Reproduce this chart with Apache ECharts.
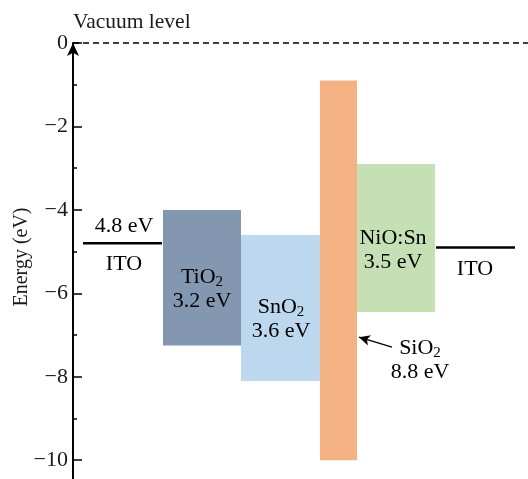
<!DOCTYPE html>
<html>
<head>
<meta charset="utf-8">
<script src="https://cdn.jsdelivr.net/npm/echarts@6/dist/echarts.min.js"></script>
<style>
html, body { margin: 0; padding: 0; background: #fff; }
#chart { width: 528px; height: 479px; }
</style>
</head>
<body>
<div id="chart"></div>
<script>
// layer stack, left to right
var layers = ['ITO', 'TiO2', 'SnO2', 'SiO2', 'NiO:Sn', 'ITO'];
var cbTop = [-4.8, -4.0, -4.6, -0.9, -2.9, -4.9];      // conduction band / work function (eV)
var vbBottom = [-4.8, -7.25, -8.1, -10.0, -6.45, -4.9]; // valence band (eV); metals = same as top
var xStart = [10, 90, 168, 247, 284, 363];
var xEnd = [89, 168, 247, 284, 362, 442];
var layerColors = ['#000', '#8497b0', '#bdd7ee', '#f4b183', '#c5e0b4', '#000'];
var yTicks = [0, -2, -4, -6, -8, -10];
var yMinorTicks = [-1, -3, -5, -7, -9];

var serif = '"Liberation Serif", "Times New Roman", serif';
var rich = {
    t: { fontSize: 22, fontFamily: serif, lineHeight: 24, color: '#1a1a1a' },
    s: { fontSize: 15, fontFamily: serif, lineHeight: 24, verticalAlign: 'bottom', color: '#1a1a1a' }
};

// text notes: [x, energy, text]
var notes = [
    [51, -4.39, '{t|4.8 eV}'],
    [51, -5.30, '{t|ITO}'],
    [129, -5.90, '{t|TiO}{s|2}\n{t|3.2 eV}'],
    [208, -6.63, '{t|SnO}{s|2}\n{t|3.6 eV}'],
    [320, -4.96, '{t|NiO:Sn}\n{t|3.5 eV}'],
    [402, -5.43, '{t|ITO}'],
    [347, -7.61, '{t|SiO}{s|2}\n{t|8.8 eV}']
];

var layerData = [];
for (var i = 0; i < layers.length; i++) {
    layerData.push([xStart[i], xEnd[i], cbTop[i], vbBottom[i]]);
}

function renderLayer(params, api) {
    var i = params.dataIndex;
    var p0 = api.coord([api.value(0), api.value(2)]);
    var p1 = api.coord([api.value(1), api.value(3)]);
    if (api.value(2) === api.value(3)) {
        return {
            type: 'line',
            shape: { x1: p0[0], y1: p0[1], x2: p1[0], y2: p0[1] },
            style: { stroke: '#000', lineWidth: 2.5 }
        };
    }
    return {
        type: 'rect',
        shape: { x: p0[0], y: p0[1], width: p1[0] - p0[0], height: p1[1] - p0[1] },
        style: { fill: layerColors[i] }
    };
}

function renderNote(params, api) {
    var p = api.coord([api.value(0), api.value(1)]);
    return {
        type: 'text',
        x: p[0],
        y: p[1],
        style: {
            text: notes[params.dataIndex][2],
            rich: rich,
            align: 'center',
            verticalAlign: 'middle'
        }
    };
}

var myChart = echarts.init(document.getElementById('chart'));
myChart.setOption({
    animation: false,
    grid: { left: 73, right: 0, top: 43, bottom: 0 },
    xAxis: { type: 'value', min: 0, max: 455, show: false },
    yAxis: [
        {
            type: 'value',
            min: -10.45,
            max: 0,
            axisLine: {
                show: true,
                symbol: ['none', 'arrow'],
                symbolSize: [9, 13],
                lineStyle: { color: '#000', width: 2 }
            },
            axisTick: {
                show: true, inside: true, length: 9, customValues: yTicks,
                lineStyle: { color: '#000', width: 1.5 }
            },
            splitLine: { show: false },
            axisLabel: {
                margin: 5,
                fontSize: 22,
                fontFamily: serif,
                color: '#1a1a1a',
                customValues: yTicks,
                formatter: function (v) { return v === 0 ? '0' : '\u2212' + Math.abs(v); }
            }
        },
        {
            type: 'value',
            min: -10.45,
            max: 0,
            position: 'left',
            axisLine: { show: false },
            axisTick: {
                show: true, inside: true, length: 4, customValues: yMinorTicks,
                lineStyle: { color: '#000', width: 1.5 }
            },
            axisLabel: { show: false },
            splitLine: { show: false }
        }
    ],
    graphic: [
        {
            type: 'text', x: 73, y: 22,
            style: { text: 'Vacuum level', font: '21.5px ' + serif, fill: '#1a1a1a', align: 'left', verticalAlign: 'middle' }
        },
        {
            type: 'text', x: 22, y: 257, rotation: Math.PI / 2,
            style: { text: 'Energy (eV)', font: '20px ' + serif, fill: '#1a1a1a', align: 'center', verticalAlign: 'middle' }
        }
    ],
    series: [
        {
            type: 'custom',
            renderItem: renderLayer,
            data: layerData,
            silent: true,
            markLine: {
                silent: true,
                symbol: ['none', 'none'],
                label: { show: false },
                lineStyle: { color: '#000', width: 1.5, type: [6, 4] },
                data: [{ yAxis: 0 }]
            }
        },
        {
            type: 'custom',
            renderItem: renderNote,
            data: notes.map(function (n) { return [n[0], n[1]]; }),
            silent: true,
            markLine: {
                silent: true,
                symbol: ['none', 'arrow'],
                symbolSize: [8, 11],
                label: { show: false },
                lineStyle: { color: '#000', width: 1.5, type: 'solid' },
                data: [[{ coord: [319, -7.29] }, { coord: [286, -7.05] }]]
            }
        }
    ]
});
</script>
</body>
</html>
